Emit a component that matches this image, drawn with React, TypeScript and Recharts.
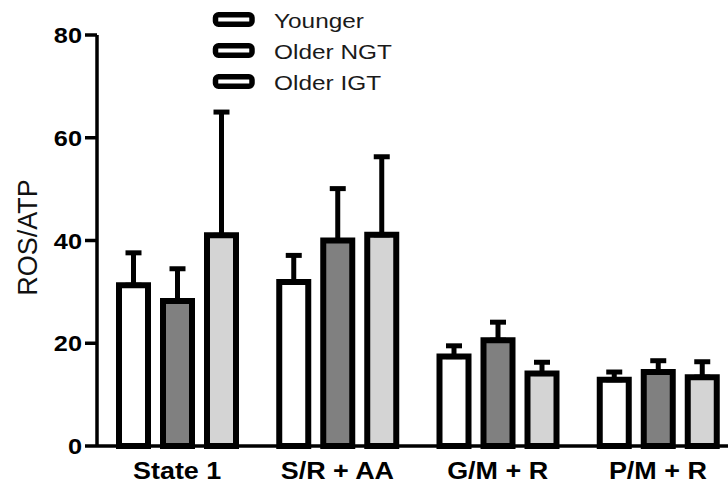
import { BarChart, Bar, XAxis, YAxis, ErrorBar, Legend } from "recharts";

const FONT = "'Liberation Sans', Arial, sans-serif";

const categories = ["State 1", "S/R + AA", "G/M + R", "P/M + R"];
const younger = [31.3, 31.9, 17.4, 12.9];
const youngerErr = [6.3, 5.2, 2.1, 1.5];
const olderNgt = [28.2, 40.0, 20.6, 14.4];
const olderNgtErr = [6.3, 10.1, 3.5, 2.2];
const olderIgt = [41.0, 41.1, 14.1, 13.4];
const olderIgtErr = [24.0, 15.2, 2.2, 3.0];
const yTicks = [0, 20, 40, 60, 80];

const series = [
  { key: "younger", name: "Younger", fill: "#ffffff", values: younger, errors: youngerErr },
  { key: "olderNgt", name: "Older NGT", fill: "#808080", values: olderNgt, errors: olderNgtErr },
  { key: "olderIgt", name: "Older IGT", fill: "#d4d4d4", values: olderIgt, errors: olderIgtErr },
];
const seriesNames = series.map((s) => s.name);

const data = categories.map((name, i) => {
  const row: Record<string, any> = { name };
  series.forEach((s) => {
    row[s.key] = s.values[i];
    // only the upper whisker is drawn
    row[s.key + "Err"] = [0, s.errors[i]];
  });
  return row;
});

const axisStyle = { stroke: "#000", strokeWidth: 3.5 };

const YTick = ({ x, y, payload }: any) => (
  <g transform={`translate(${x},${y}) scale(1.15,1)`}>
    <text x={0} y={0} dy={8} textAnchor="end" fontFamily={FONT} fontWeight="bold" fontSize={22} fill="#000">
      {payload.value}
    </text>
  </g>
);

const XTick = ({ x, y, payload }: any) => (
  <g transform={`translate(${x},${y}) scale(1.17,1)`}>
    <text x={0} y={0} dy={33} textAnchor="middle" fontFamily={FONT} fontWeight="bold" fontSize={23} fill="#000">
      {payload.value}
    </text>
  </g>
);

const YLabel = ({ viewBox }: any) => (
  <text
    transform={`translate(37,${viewBox.y + viewBox.height / 2 - 3}) rotate(-90)`}
    textAnchor="middle"
    fontFamily={FONT}
    fontSize={27}
    fill="#111"
  >
    ROS/ATP
  </text>
);

const renderLegend = ({ payload }: any) => {
  // keep the series order (recharts hands the vertical legend over reversed)
  const items = [...(payload || [])].sort(
    (a: any, b: any) => seriesNames.indexOf(a.value) - seriesNames.indexOf(b.value)
  );
  return (
    <svg width={200} height={100}>
      {items.map((p: any, i: number) => (
        <g key={p.value} transform={`translate(0,${19.5 + i * 31})`}>
          <rect x={5.5} y={-4.75} width={36.5} height={9.5} rx={3} fill="#fff" stroke="#000" strokeWidth={5.5} />
          <g transform="translate(64,8) scale(1.22,1)">
            <text x={0} y={0} fontFamily={FONT} fontSize={20} fill="#1a1a1a">
              {p.value}
            </text>
          </g>
        </g>
      ))}
    </svg>
  );
};

const App = () => (
  <div
    style={{
      position: "fixed",
      left: 0,
      top: 0,
      width: 728,
      height: 485,
      overflow: "hidden",
      background: "#fff",
    }}
  >
    <BarChart
      width={740}
      height={485}
      data={data}
      margin={{ top: 35, right: 2, bottom: 0, left: 37 }}
      barSize={29}
      barGap={15}
    >
      <XAxis
        dataKey="name"
        height={39}
        axisLine={axisStyle}
        tickLine={false}
        tickSize={0}
        tickMargin={0}
        interval={0}
        tick={XTick}
      />
      <YAxis
        domain={[0, 80]}
        ticks={yTicks}
        width={60}
        tickSize={12}
        tickMargin={3}
        axisLine={axisStyle}
        tickLine={axisStyle}
        tick={YTick}
        label={{ content: YLabel }}
      />
      <Legend
        layout="vertical"
        align="center"
        verticalAlign="middle"
        content={renderLegend}
        wrapperStyle={{ left: 210, top: 0, width: 200, height: 100 }}
      />
      {series.map((s) => (
        <Bar
          key={s.key}
          dataKey={s.key}
          name={s.name}
          fill={s.fill}
          stroke="#000"
          strokeWidth={6}
          isAnimationActive={false}
        >
          <ErrorBar dataKey={s.key + "Err"} direction="y" width={8} strokeWidth={5} stroke="#000" />
        </Bar>
      ))}
    </BarChart>
  </div>
);

export default App;
